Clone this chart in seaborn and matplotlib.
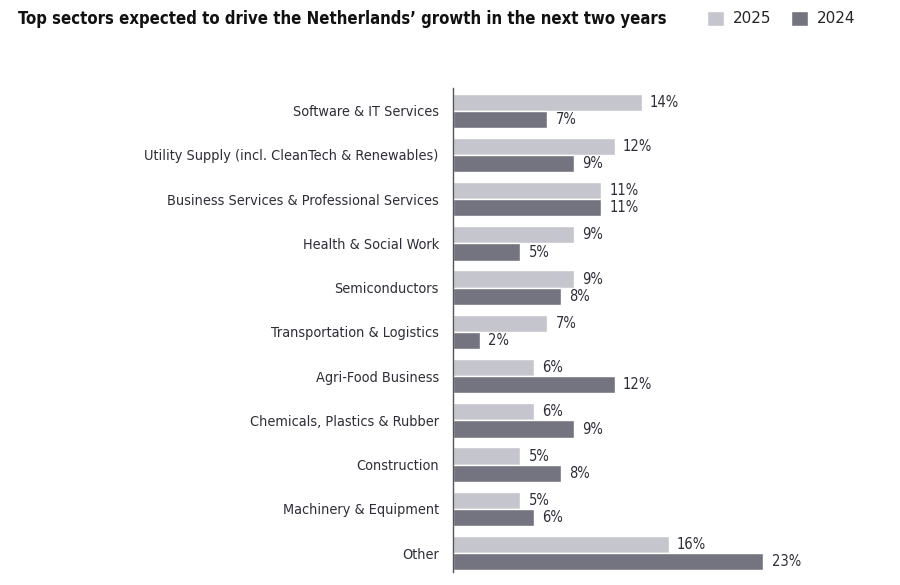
import pandas as pd
import numpy as np
import seaborn as sns
from matplotlib import pyplot as plt
from matplotlib.patches import Patch

# data
sectors = ['Software & IT Services', 'Utility Supply (incl. CleanTech & Renewables)',
           'Business Services & Professional Services', 'Health & Social Work',
           'Semiconductors', 'Transportation & Logistics', 'Agri-Food Business',
           'Chemicals, Plastics & Rubber', 'Construction', 'Machinery & Equipment', 'Other']
share_2025 = [14, 12, 11, 9, 9, 7, 6, 6, 5, 5, 16]
share_2024 = [7, 9, 11, 5, 8, 2, 12, 9, 8, 6, 23]
years = ['2025', '2024']
colors = ['#c5c5cd', '#747480']

df = pd.DataFrame({'sector': sectors * 2,
                   'share': share_2025 + share_2024,
                   'year': [years[0]] * len(sectors) + [years[1]] * len(sectors)})

sns.set_style('white')
plt.rcParams['font.family'] = ['DejaVu Sans']

fig = plt.figure(figsize=(9, 5.85), dpi=100)
ax = fig.add_axes([0.503, 0.022, 0.45, 0.828])

sns.barplot(data=df, y='sector', x='share', hue='year', hue_order=years,
            palette=colors, orient='h', width=0.78, saturation=1,
            legend=False, ax=ax)

# value labels
for container in ax.containers:
    ax.bar_label(container, labels=['{}%'.format(int(v)) for v in container.datavalues],
                 padding=6, fontsize=10.5, color='#2e2e38', fontstretch='condensed')

ax.set_xlim(0, 30)
ax.set_ylim(10.43, -0.52)
ax.set_xlabel('')
ax.set_ylabel('')
ax.set_xticks([])
ax.tick_params(axis='y', length=0, pad=10, labelsize=10.4, labelcolor='#2e2e38')
for lbl in ax.get_yticklabels():
    lbl.set_fontstretch('condensed')
for side in ['top', 'right', 'bottom']:
    ax.spines[side].set_visible(False)
ax.spines['left'].set_color('#555560')
ax.spines['left'].set_linewidth(1)

fig.text(0.02, 0.968, "Top sectors expected to drive the Netherlands\u2019 growth in the next two years",
         fontsize=12, fontweight='bold', color='#111111', va='center',
         fontstretch='condensed')

handles = [Patch(facecolor=c, label=y) for c, y in zip(colors, years)]
fig.legend(handles=handles, loc='center', bbox_to_anchor=(0.868, 0.968), ncol=2,
           frameon=False, fontsize=11, handlelength=1.1, handleheight=1.1,
           columnspacing=1.3, handletextpad=0.6)

fig.savefig('out.png', dpi=100)
